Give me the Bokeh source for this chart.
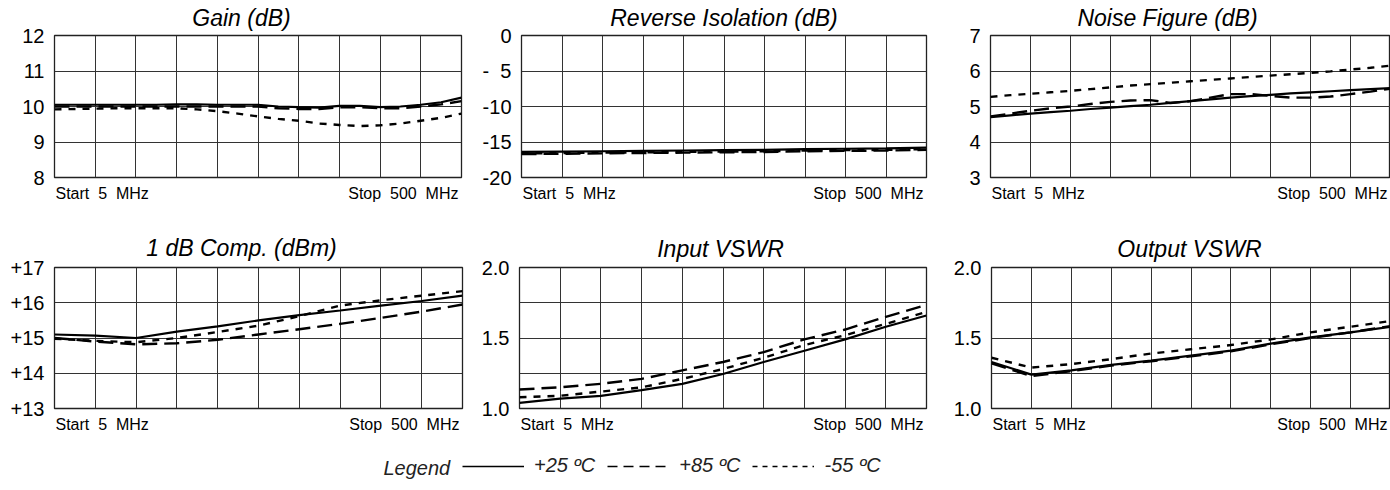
from bokeh.plotting import figure
from bokeh.layouts import column, row
from bokeh.models import Range1d, FixedTicker, Label, Legend, LegendItem
from bokeh.embed import file_html
from bokeh.resources import INLINE

# ---------------- data ----------------
freq11 = [5, 54.5, 104, 153.5, 203, 252.5, 302, 351.5, 401, 450.5, 500]
freq21 = [5, 29.75, 54.5, 79.25, 104, 128.75, 153.5, 178.25, 203, 227.75, 252.5,
          277.25, 302, 326.75, 351.5, 376.25, 401, 425.75, 450.5, 475.25, 500]
grid_freq = [5, 54.5, 104, 153.5, 203, 252.5, 302, 351.5, 401, 450.5, 500]

gain_25 = [10.05, 10.05, 10.05, 10.05, 10.05, 10.05, 10.06, 10.06, 10.05, 10.05, 10.05,
           10.0, 9.98, 9.97, 10.02, 10.02, 9.98, 10.0, 10.05, 10.12, 10.25]
gain_85 = [10.0, 10.0, 10.0, 10.0, 10.0, 10.0, 10.0, 10.0, 10.0, 10.0, 10.0,
           9.95, 9.93, 9.93, 9.98, 9.98, 9.95, 9.95, 10.0, 10.06, 10.15]
gain_m55 = [9.92, 9.93, 9.94, 9.95, 9.95, 9.95, 9.95, 9.92, 9.87, 9.8, 9.72,
            9.65, 9.6, 9.52, 9.48, 9.45, 9.47, 9.52, 9.6, 9.68, 9.8]

iso_25 = [-16.4, -16.35, -16.3, -16.25, -16.2, -16.15, -16.1, -16.0, -15.95, -15.9, -15.8]
iso_85 = [-16.7, -16.65, -16.6, -16.55, -16.5, -16.45, -16.4, -16.3, -16.25, -16.2, -16.1]
iso_m55 = [-16.6, -16.55, -16.5, -16.45, -16.4, -16.35, -16.3, -16.2, -16.15, -16.1, -16.0]

nf_25 = [4.7, 4.75, 4.8, 4.84, 4.88, 4.93, 4.97, 5.01, 5.05, 5.1, 5.15,
         5.2, 5.25, 5.29, 5.33, 5.37, 5.4, 5.43, 5.46, 5.49, 5.52]
nf_85 = [4.72, 4.8, 4.88, 4.95, 5.0, 5.07, 5.13, 5.17, 5.18, 5.1, 5.15,
         5.25, 5.35, 5.35, 5.3, 5.25, 5.25, 5.28, 5.35, 5.42, 5.5]
nf_m55 = [5.27, 5.32, 5.36, 5.4, 5.44, 5.49, 5.54, 5.59, 5.63, 5.67, 5.71,
          5.75, 5.79, 5.83, 5.87, 5.91, 5.95, 5.99, 6.04, 6.09, 6.15]

comp_25 = [15.1, 15.07, 15.0, 15.18, 15.33, 15.5, 15.65, 15.78, 15.92, 16.05, 16.2]
comp_85 = [15.0, 14.9, 14.82, 14.85, 14.95, 15.1, 15.25, 15.4, 15.57, 15.75, 15.95]
comp_m55 = [14.98, 14.92, 14.88, 15.0, 15.17, 15.35, 15.62, 15.92, 16.07, 16.2, 16.33]

ivswr_25 = [1.04, 1.07, 1.09, 1.13, 1.175, 1.245, 1.33, 1.41, 1.49, 1.58, 1.66]
ivswr_85 = [1.135, 1.15, 1.175, 1.21, 1.27, 1.33, 1.40, 1.49, 1.56, 1.65, 1.735]
ivswr_m55 = [1.08, 1.09, 1.12, 1.15, 1.21, 1.28, 1.36, 1.45, 1.52, 1.60, 1.685]

ovswr_25 = [1.33, 1.24, 1.27, 1.31, 1.34, 1.375, 1.41, 1.46, 1.505, 1.54, 1.58]
ovswr_85 = [1.32, 1.23, 1.265, 1.305, 1.335, 1.37, 1.405, 1.455, 1.5, 1.54, 1.585]
ovswr_m55 = [1.36, 1.29, 1.315, 1.35, 1.39, 1.42, 1.45, 1.49, 1.54, 1.58, 1.62]

gain_ticks = [8, 9, 10, 11, 12]
gain_labels = ["8", "9", "10", "11", "12"]
iso_ticks = [-20, -15, -10, -5, 0]
iso_labels = ["-20", "-15", "-10", "-\u00a0\u00a05", "0"]
nf_ticks = [3, 4, 5, 6, 7]
nf_labels = ["3", "4", "5", "6", "7"]
comp_ticks = [13, 14, 15, 16, 17]
comp_labels = ["+13", "+14", "+15", "+16", "+17"]
vswr_ticks = [1.0, 1.25, 1.5, 1.75, 2.0]
vswr_labels = ["1.0", "", "1.5", "", "2.0"]

titles = ["Gain (dB)", "Reverse Isolation (dB)", "Noise Figure (dB)",
          "1 dB Comp. (dBm)", "Input VSWR", "Output VSWR"]
start_text = "Start\u00a0\u00a05\u00a0\u00a0MHz"
stop_text = "Stop\u00a0\u00a0500\u00a0\u00a0MHz"
legend_title = "Legend"
legend_labels = ["+25 \u00baC", "+85 \u00baC", "-55 \u00baC"]

FONT = "Liberation Sans"
DASH_85 = "15 7"
DASH_M55 = "7 7"


def panel(title, title_off, xs, s25, s85, sm55, ticks, labels,
          bl, fw, br, bt, fh, bb, ttl_dy):
    p = figure(frame_width=fw, frame_height=fh,
               min_border_left=bl, min_border_right=br,
               min_border_top=bt, min_border_bottom=bb,
               x_range=Range1d(5, 500), y_range=Range1d(ticks[0], ticks[-1]),
               toolbar_location=None, output_backend="svg",
               background_fill_color="white", border_fill_color="white",
               outline_line_color="#222222", outline_line_width=1.3)
    p.xaxis.visible = False
    p.xgrid.ticker = FixedTicker(ticks=grid_freq)
    p.ygrid.ticker = FixedTicker(ticks=ticks)
    for g in (p.xgrid, p.ygrid):
        g.grid_line_color = "#333333"
        g.grid_line_width = 1
        g.grid_line_alpha = 1
    ax = p.yaxis[0]
    ax.ticker = FixedTicker(ticks=ticks)
    ax.major_label_overrides = {t: l for t, l in zip(ticks, labels)}
    ax.axis_line_color = None
    ax.major_tick_line_color = None
    ax.minor_tick_line_color = None
    ax.major_tick_out = 0
    ax.major_tick_in = 0
    ax.major_label_standoff = 10
    ax.major_label_text_font = FONT
    ax.major_label_text_font_size = "20px"
    ax.major_label_text_color = "black"

    p.line(xs, sm55, line_color="black", line_width=2.4, line_dash=DASH_M55)
    p.line(xs, s85, line_color="black", line_width=2.4, line_dash=DASH_85)
    p.line(xs, s25, line_color="black", line_width=2.2)

    ymin, ymax = ticks[0], ticks[-1]
    p.add_layout(Label(x=252.5, y=ymax, x_offset=title_off, y_offset=ttl_dy, text=title,
                       text_align="center", text_baseline="middle",
                       text_font=FONT, text_font_style="italic",
                       text_font_size="23px", text_color="black"), "above")
    p.add_layout(Label(x=5, y=ymin, x_offset=1, y_offset=-16, text=start_text,
                       text_align="left", text_baseline="middle",
                       text_font=FONT, text_font_size="16px", text_color="black"), "below")
    p.add_layout(Label(x=500, y=ymin, x_offset=-3, y_offset=-16, text=stop_text,
                       text_align="right", text_baseline="middle",
                       text_font=FONT, text_font_size="16px", text_color="black"), "below")
    return p


p1 = panel(titles[0], -16.5, freq21, gain_25, gain_85, gain_m55, gain_ticks, gain_labels,
           54, 407, 14, 35, 142, 38, 18)
p2 = panel(titles[1], 0, freq11, iso_25, iso_85, iso_m55, iso_ticks, iso_labels,
           46, 405, 14, 35, 142, 38, 18)
p3 = panel(titles[2], -23, freq21, nf_25, nf_85, nf_m55, nf_ticks, nf_labels,
           50, 400, 0, 35, 142, 38, 18)
p4 = panel(titles[3], -17, freq11, comp_25, comp_85, comp_m55, comp_ticks, comp_labels,
           54, 408, 13, 52, 141, 32, 20)
p5 = panel(titles[4], -2.5, freq11, ivswr_25, ivswr_85, ivswr_m55, vswr_ticks, vswr_labels,
           44, 407, 14, 52, 141, 32, 19)
p6 = panel(titles[5], -1.5, freq11, ovswr_25, ovswr_85, ovswr_m55, vswr_ticks, vswr_labels,
           51, 399, 0, 52, 141, 32, 19)

# legend strip
pl = figure(width=1390, height=48, x_range=Range1d(0, 1390), y_range=Range1d(0, 48),
            min_border=0, x_axis_type=None, y_axis_type=None,
            toolbar_location=None, output_backend="svg", outline_line_color=None,
            background_fill_color="white", border_fill_color="white")
pl.xgrid.visible = False
pl.ygrid.visible = False
nan = float("nan")
r25 = pl.line([nan], [nan], line_color="black", line_width=1.3)
r85 = pl.line([nan], [nan], line_color="black", line_width=1.3, line_dash="10 6")
rm55 = pl.line([nan], [nan], line_color="black", line_width=1.3, line_dash="5 5")
leg = Legend(items=[LegendItem(label=legend_labels[0], renderers=[r25]),
                    LegendItem(label=legend_labels[1], renderers=[r85]),
                    LegendItem(label=legend_labels[2], renderers=[rm55])],
             orientation="horizontal", location=(462, 13),
             glyph_width=62, glyph_height=20, label_height=20,
             label_standoff=10, spacing=12, padding=0, margin=0,
             border_line_color=None, background_fill_alpha=0,
             label_text_font=FONT, label_text_font_style="italic",
             label_text_font_size="20px", label_text_color="#222222")
pl.add_layout(leg)
pl.add_layout(Label(x=383, y=23, text=legend_title, text_align="left", text_baseline="middle",
                    text_font=FONT, text_font_style="italic", text_font_size="20px",
                    text_color="#222222"))

layout = column(row(p1, p2, p3), row(p4, p5, p6), pl)
open("out.html", "w").write(file_html(layout, INLINE))
